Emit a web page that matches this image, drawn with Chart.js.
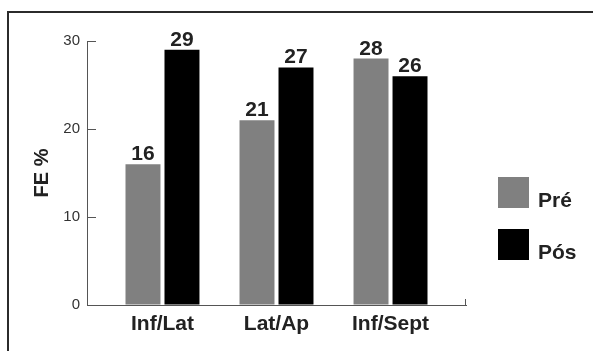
<!DOCTYPE html>
<html>
<head>
<meta charset="utf-8">
<title>FE %</title>
<script src="https://cdn.jsdelivr.net/npm/chart.js@4/dist/chart.umd.min.js"></script>
<style>
  html, body { margin: 0; padding: 0; background: #fff; }
  #wrap { width: 593px; height: 351px; position: relative; }
</style>
</head>
<body>
<div id="wrap"><canvas id="chart"></canvas></div>
<script>
// Ejection fraction before / after, by segment
const segments = ['Inf/Lat', 'Lat/Ap', 'Inf/Sept'];
const pre = [16, 21, 28];
const post = [29, 27, 26];
const seriesNames = ['Pré', 'Pós'];
const yTicks = [0, 10, 20, 30];

const FONT = '"Liberation Sans", Arial, Helvetica, sans-serif';
const INK = '#222';
const AXIS = '#555';

// frame, value labels and the right-hand legend
const decor = {
  id: 'decor',
  afterDraw(chart) {
    const ctx = chart.ctx;
    const x = chart.scales.x;
    ctx.save();

    // outer frame (only top + left edges visible)
    ctx.strokeStyle = '#2b2b2b';
    ctx.lineWidth = 2;
    ctx.beginPath();
    ctx.moveTo(8, chart.height);
    ctx.lineTo(8, 12);
    ctx.lineTo(chart.width, 12);
    ctx.stroke();

    // little end tick on the x axis
    ctx.strokeStyle = AXIS;
    ctx.lineWidth = 1;
    ctx.beginPath();
    ctx.moveTo(Math.round(x.right) - 0.5, x.top);
    ctx.lineTo(Math.round(x.right) - 0.5, x.top - 6);
    ctx.stroke();

    // value labels above bars
    ctx.fillStyle = INK;
    ctx.font = 'bold 21px ' + FONT;
    ctx.textAlign = 'center';
    ctx.textBaseline = 'alphabetic';
    chart.data.datasets.forEach((ds, i) => {
      chart.getDatasetMeta(i).data.forEach((bar, j) => {
        ctx.fillText(ds.data[j].y, bar.x, bar.y - 4);
      });
    });

    // legend
    ctx.textAlign = 'left';
    chart.data.datasets.forEach((ds, i) => {
      const top = 177 + i * 52;
      ctx.fillStyle = ds.backgroundColor;
      ctx.fillRect(498, top, 31, 31);
      ctx.fillStyle = INK;
      ctx.fillText(ds.label, 538, top + 30);
    });
    ctx.restore();
  }
};

new Chart(document.getElementById('chart'), {
  type: 'bar',
  data: {
    datasets: [
      { label: seriesNames[0], data: pre.map((v, i) => ({ x: i, y: v })), backgroundColor: '#808080' },
      { label: seriesNames[1], data: post.map((v, i) => ({ x: i, y: v })), backgroundColor: '#000000' },
    ],
  },
  options: {
    responsive: true,
    maintainAspectRatio: false,
    animation: false,
    categoryPercentage: 0.684,
    barPercentage: 0.897,
    layout: { padding: { left: 0, top: 41, right: 127, bottom: 0 } },
    plugins: { legend: { display: false }, tooltip: { enabled: false } },
    scales: {
      x: {
        type: 'linear',
        offset: false,
        bounds: 'data',
        grace: 0,
        min: -0.662,
        max: 2.662,
        afterDataLimits: s => { s.min = -0.662; s.max = 2.662; },
        afterBuildTicks: s => { s.ticks = segments.map((_, i) => ({ value: i })); },
        afterFit: s => { s.height = 46; },
        ticks: {
          callback: v => segments[v],
          color: INK,
          font: { family: FONT, size: 21, weight: 'bold' },
          padding: 7,
          maxRotation: 0,
        },
        grid: { display: true, offset: false, drawOnChartArea: false, drawTicks: false },
        border: { display: true, color: AXIS, width: 1 },
      },
      y: {
        min: 0,
        max: 30,
        afterBuildTicks: s => { s.ticks = yTicks.map(v => ({ value: v })); },
        afterFit: s => { s.width = 87; },
        ticks: {
          color: '#333',
          font: { family: FONT, size: 15 },
          padding: 16,
        },
        grid: { drawOnChartArea: false, drawTicks: true, tickLength: -9, color: AXIS },
        border: { display: true, color: AXIS, width: 1 },
        title: {
          display: true,
          text: 'FE %',
          color: INK,
          font: { family: FONT, size: 20, weight: 'bold' },
          padding: { top: 30, bottom: 0 },
        },
      },
    },
  },
  plugins: [decor],
});
</script>
</body>
</html>
